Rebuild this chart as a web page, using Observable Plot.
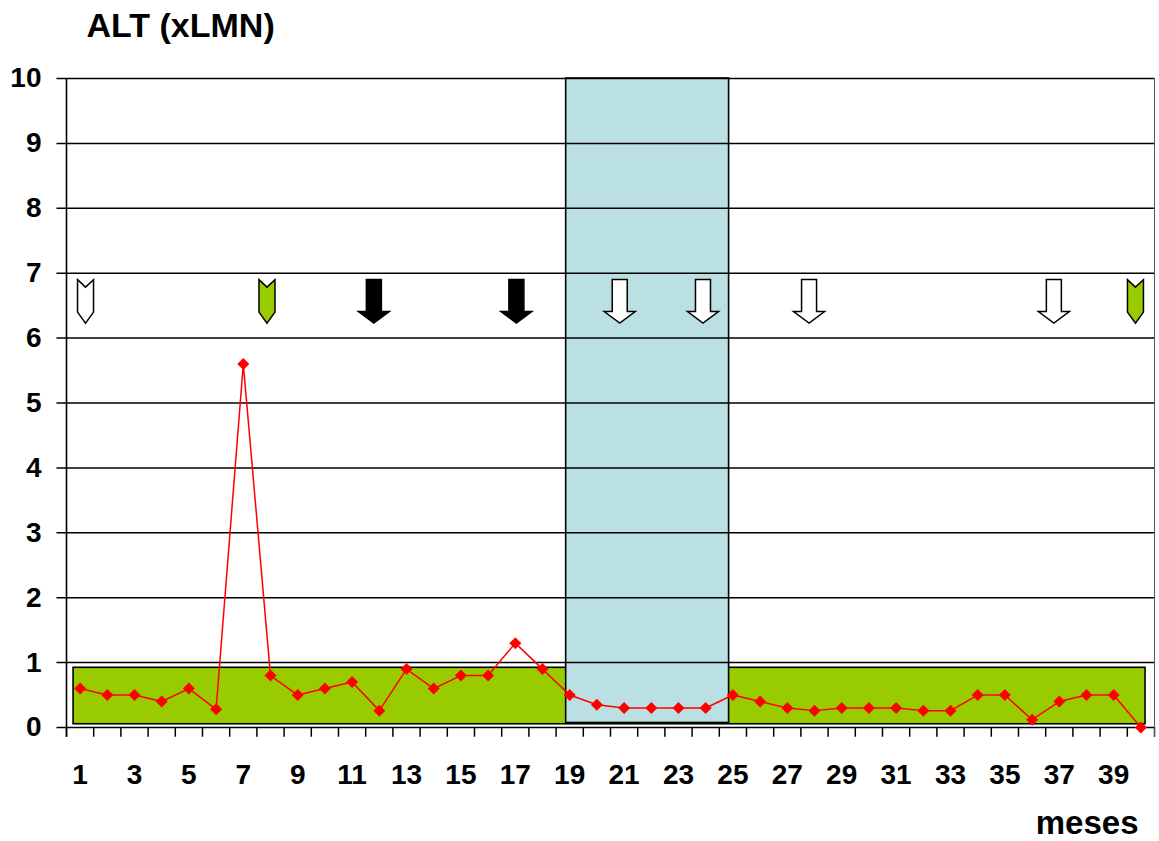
<!DOCTYPE html>
<html>
<head>
<meta charset="utf-8">
<script src="https://cdn.jsdelivr.net/npm/d3@7"></script>
<script src="https://cdn.jsdelivr.net/npm/@observablehq/plot@0.6"></script>
<style>
  html, body { margin: 0; padding: 0; background: white; }
  #chart svg { display: block; }
</style>
</head>
<body>
<div id="chart"></div>
<script>
// ---- Data ----
const months = [1,2,3,4,5,6,7,8,9,10,11,12,13,14,15,16,17,18,19,20,21,22,23,24,25,26,27,28,29,30,31,32,33,34,35,36,37,38,39,40];
const alt = [0.6,0.5,0.5,0.4,0.6,0.28,5.6,0.8,0.5,0.6,0.7,0.26,0.9,0.6,0.8,0.8,1.3,0.9,0.5,0.35,0.3,0.3,0.3,0.3,0.5,0.4,0.3,0.26,0.3,0.3,0.3,0.26,0.26,0.5,0.5,0.12,0.4,0.5,0.5,0.0];

// normal range band (green) and treatment period (blue)
const normalMonths = [0.76, 40.17];
const normalRange = [0.05, 0.92];
const treatMonths = [18.87, 24.86];
const treatRange = [0.07, 10];

// event arrows
const arrowMonths = [1.2, 7.87, 11.8, 17.04, 20.84, 23.9, 27.8, 36.8, 39.8];
const arrowKinds  = ["chevron","chevron","block","block","block","block","block","block","chevron"];
const arrowFills  = ["white","#99CC00","black","black","white","white","white","white","#99CC00"];
const arrowLevel = 6.57;

// ticks
const yTicks = [0,1,2,3,4,5,6,7,8,9,10];
const xLabels = [1,3,5,7,9,11,13,15,17,19,21,23,25,27,29,31,33,35,37,39];
const xTickMarks = d3.range(0.5, 41, 1);

const title = "ALT (xLMN)";
const xTitle = "meses";

// ---- Build tables ----
const series = months.map((m, i) => ({month: m, value: alt[i]}));
const bands = [
  {x1: normalMonths[0], x2: normalMonths[1], y1: normalRange[0], y2: normalRange[1], fill: "#99CC00"},
  {x1: treatMonths[0], x2: treatMonths[1], y1: treatRange[0], y2: treatRange[1], fill: "#BBE0E3"}
];
const arrows = arrowMonths.map((m, i) => ({month: m, kind: arrowKinds[i], fill: arrowFills[i], level: arrowLevel}));

// ---- Custom symbols ----
function polySymbol(points, base) {
  return {
    draw(ctx, size) {
      const k = Math.sqrt(size / Math.PI) / base;
      points.forEach(([px, py], i) => i ? ctx.lineTo(px * k, py * k) : ctx.moveTo(px * k, py * k));
      ctx.closePath();
    }
  };
}
const blockArrow = polySymbol([[-7.5,-21.5],[7.5,-21.5],[7.5,10.5],[15.5,10.5],[0,22],[-15.5,10.5],[-7.5,10.5]], 10);
const chevron = polySymbol([[-8,-21.5],[0,-14],[8,-21.5],[8,11],[0,22],[-8,11]], 10);
const diamond = polySymbol([[0,-6],[6,0],[0,6],[-6,0]], 6);

const font = "'Liberation Sans', Arial, Helvetica, sans-serif";

const chart = Plot.plot({
  width: 1159,
  height: 841,
  marginLeft: 66,
  marginRight: 5,
  marginTop: 78,
  marginBottom: 114,
  x: {domain: [0.5, 40.5], axis: null},
  y: {domain: [0, 10], axis: null},
  color: {type: "identity"},
  style: {fontFamily: font, background: "white", color: "black"},
  marks: [
    Plot.rect(bands, {x1: "x1", x2: "x2", y1: "y1", y2: "y2", fill: "fill", stroke: "black", strokeWidth: 1.6}),
    Plot.ruleY(yTicks, {x1: () => 0.15, x2: () => 40.5, stroke: "black", strokeWidth: 1.5}),
    Plot.ruleX(xTickMarks, {y1: () => -0.15, y2: () => 0, stroke: "black", strokeWidth: 1.5}),
    Plot.ruleX([0.5], {y1: () => -0.15, y2: () => 10, stroke: "black", strokeWidth: 1.6}),
    Plot.ruleX([40.5], {y1: () => -0.15, y2: () => 10, stroke: "#555", strokeWidth: 1}),
    Plot.dot(arrows.filter(d => d.kind === "block"), {x: "month", y: "level", symbol: blockArrow, r: 10, fill: "fill", stroke: "black", strokeWidth: 1.5, strokeLinejoin: "miter"}),
    Plot.dot(arrows.filter(d => d.kind === "chevron"), {x: "month", y: "level", symbol: chevron, r: 10, fill: "fill", stroke: "black", strokeWidth: 1.5, strokeLinejoin: "miter"}),
    Plot.line(series, {x: "month", y: "value", stroke: "red", strokeWidth: 1.5}),
    Plot.dot(series, {x: "month", y: "value", symbol: diamond, r: 6, fill: "red", stroke: "none"}),
    Plot.text(yTicks, {y: d => d, frameAnchor: "left", dx: -25, textAnchor: "end", lineAnchor: "middle", fontSize: 28, fontWeight: "bold", fill: "black"}),
    Plot.text(xLabels, {x: d => d, frameAnchor: "bottom", dy: 48, textAnchor: "middle", lineAnchor: "middle", fontSize: 28, fontWeight: "bold", fill: "black"}),
    Plot.text([title], {frameAnchor: "top-left", dx: 20, dy: -52, textAnchor: "start", lineAnchor: "middle", fontSize: 34, fontWeight: "bold", fill: "black"}),
    Plot.text([xTitle], {frameAnchor: "bottom-right", dx: -16, dy: 96, textAnchor: "end", lineAnchor: "middle", fontSize: 33, fontWeight: "bold", fill: "black"})
  ]
});

document.getElementById("chart").append(chart);
</script>
</body>
</html>
